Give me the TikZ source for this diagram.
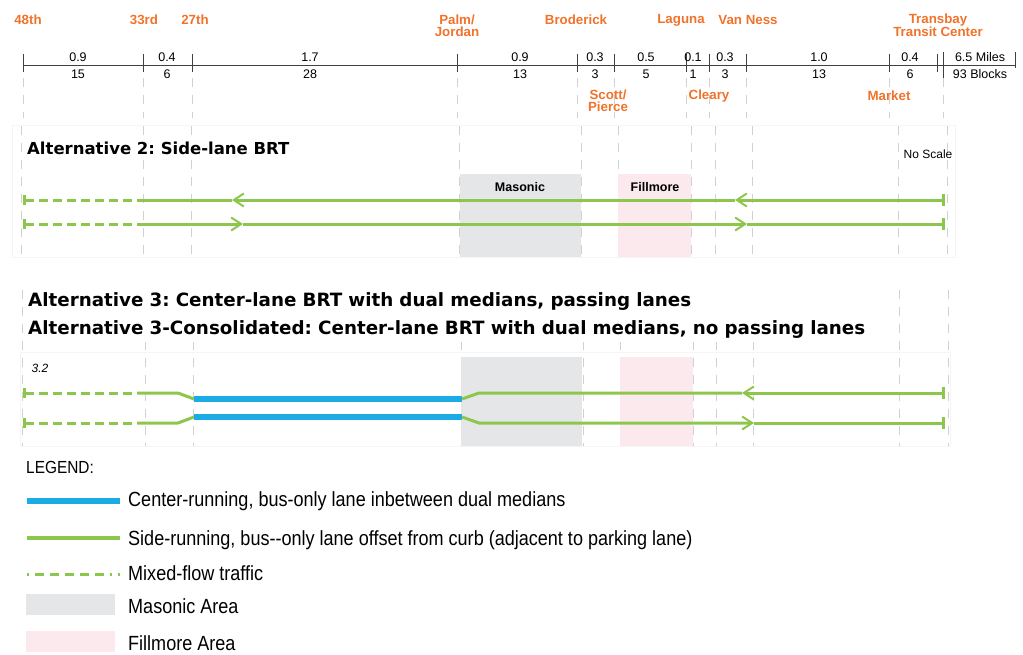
\documentclass[tikz,border=0pt]{standalone}
\usepackage{fontspec}
\setmainfont{Liberation Sans}
\newfontfamily\dejavu{DejaVu Sans}
\newfontfamily\sempit[FakeStretch=0.88]{Liberation Sans}
\usepackage{xcolor}
\usetikzlibrary{arrows.meta, positioning}
\definecolor{oranye}{RGB}{241,114,42}
\definecolor{hijau}{RGB}{141,198,76}
\definecolor{biru}{RGB}{28,171,226}
\definecolor{abu}{RGB}{229,230,232}
\definecolor{merahmuda}{RGB}{252,233,238}
\frenchspacing

\begin{document}
\begin{tikzpicture}[
    x=1pt, y=-1pt,
    font=\fontsize{12.5}{14}\selectfont,
    halte/.style={text=oranye, font=\fontsize{13.3}{12}\selectfont\bfseries, align=center, inner sep=0pt},
    angka/.style={inner sep=0pt},
    garis/.style={black!18, dash pattern=on 9pt off 8pt, line width=0.7pt},
    sisi/.style={hijau, line width=3pt},
    campur/.style={sisi, dash pattern=on 9pt off 5pt},
    tengah/.style={biru, line width=6pt},
    panah/.style={-{Straight Barb[length=10pt, width=13pt, line width=2pt]}},
    ujung/.style={{Bar[width=10pt]}-},
    judul/.style={font=\dejavu\bfseries\fontsize{16.5}{28}\selectfont, fill=white, anchor=west, inner sep=2pt, align=left},
    area/.style={font=\fontsize{12.5}{14}\selectfont\bfseries, inner sep=0pt},
    legenda/.style={font=\sempit\fontsize{20.5}{22}\selectfont, anchor=west, inner sep=0pt}
  ]
    \useasboundingbox (0,0) rectangle (1023,654);

    % skala jarak
    \coordinate (s0) at (23,65);
    \coordinate (s1) at (1015,65);
    \draw[black!75, line width=0.8pt] (s0) -- (s1);
    \foreach \x in {23,143,192,457,577,614,686,709,746,889,937}
      \draw[black!75, line width=0.8pt] (\x,54) -- (\x,72);
    \draw[black!75, line width=0.8pt] (943,52) -- (943,78);
    \draw[black!75, line width=0.8pt] (1015,52) -- (1015,68);
    \foreach \x in {23,143,192,457,577,614,686,709,746,889,943}
      \draw[garis] (\x,78) -- (\x,118);
    \foreach \x/\atas/\bawah in {78/0.9/15, 167/0.4/6, 310/1.7/28, 520/0.9/13, 595/0.3/3,
                                 646/0.5/5, 693/0.1/1, 725/0.3/3, 819/1.0/13, 910/0.4/6}{
      \node[angka] at (\x,57) {\atas};
      \node[angka] at (\x,74) {\bawah};
    }
    \node[angka] (mil) at (980,57) {6.5 Miles};
    \node[angka] (blok) at (980,74) {93 Blocks};

    % nama halte
    \node[halte] (h48) at (28,20) {48th};
    \node[halte] (h33) at (144,20) {33rd};
    \node[halte] (h27) at (195,20) {27th};
    \node[halte] (hpalm) at (457,25.5) {Palm/\\Jordan};
    \node[halte] (hbrod) at (576,20) {Broderick};
    \node[halte] (hlag) at (681,20) {Laguna};
    \node[halte] (hvn) at (748,20) {Van Ness};
    \node[halte] (htrans) at (938,25.5) {Transbay\\Transit Center};
    \node[halte] (hscott) at (608,101) {Scott/\\Pierce};
    \node[halte] (hclear) at (709,96) {Cleary};
    \node[halte] (hmark) at (889,96) {Market};

    % alternatif 2
    \draw[black!4] (12,125) rectangle (955,257);
    \foreach \x in {21,143,191,459,581,618,691,715,752,898,947}
      \draw[garis] (\x,126) -- (\x,256);
    \fill[abu] (460,174) rectangle (581,257);
    \fill[merahmuda] (618,174) rectangle (691,257);
    \node[area] (mas2) at (520,187) {Masonic};
    \node[area] (fil2) at (655,187) {Fillmore};
    \node[judul] (alt2) at (25,148) {Alternative 2: Side-lane BRT};
    \node[font=\fontsize{12}{14}\selectfont, inner sep=0pt] (skala) at (928,154) {No Scale};

    \coordinate (a2s) at (23,200);  \coordinate (a2m) at (137,200);
    \coordinate (a2p) at (232,200); \coordinate (a2q) at (735,200);
    \coordinate (a2e) at (945,200);
    \draw[campur, ujung] (a2s) -- (a2m);
    \draw[sisi, {Bar[width=12pt]}-{Straight Barb[length=10pt, width=13pt, line width=2pt]}] (a2e) -- (a2q);
    \draw[sisi, panah] (a2q) -- (a2p);
    \draw[sisi] (a2p) -- (a2m);

    \coordinate (b2s) at (23,224);  \coordinate (b2m) at (137,224);
    \coordinate (b2p) at (243,224); \coordinate (b2q) at (747,224);
    \coordinate (b2e) at (945,224);
    \draw[campur, ujung] (b2s) -- (b2m);
    \draw[sisi, panah] (b2m) -- (b2p);
    \draw[sisi, panah] (b2p) -- (b2q);
    \draw[sisi, -{Bar[width=12pt]}] (b2q) -- (b2e);

    % alternatif 3
    \draw[black!4] (20,352) rectangle (950,446);
    \foreach \x in {22,145,193,461,583,620,693,716,753,899,948}
      \draw[garis] (\x,290) -- (\x,446);
    \fill[abu] (461,357) rectangle (582,446);
    \fill[merahmuda] (620,357) rectangle (693,446);
    \node[judul, font=\dejavu\bfseries\fontsize{18.3}{28}\selectfont, text width=850pt, inner sep=3pt]
      (alt3) at (25,316) {Alternative 3: Center-lane BRT with dual medians, passing lanes\\
                          Alternative 3-Consolidated: Center-lane BRT with dual medians, no passing lanes};
    \node[font=\itshape\fontsize{12}{14}\selectfont, inner sep=0pt] (km) at (40,368) {3.2};

    \coordinate (a3s) at (23,393);  \coordinate (a3m) at (137,393);
    \coordinate (a3b) at (178,393); \coordinate (a3c) at (194,399);
    \coordinate (a3d) at (462,399); \coordinate (a3f) at (479,393);
    \coordinate (a3q) at (742,393); \coordinate (a3e) at (945,393);
    \draw[campur, ujung] (a3s) -- (a3m);
    \draw[sisi, line join=round] (a3m) -- (a3b) -- (a3c);
    \draw[tengah] (a3c) -- (a3d);
    \draw[sisi, line join=round] (a3d) -- (a3f) -- (a3q);
    \draw[sisi, {Bar[width=12pt]}-{Straight Barb[length=10pt, width=13pt, line width=2pt]}] (a3e) -- (a3q);

    \coordinate (b3s) at (23,423);  \coordinate (b3m) at (137,423);
    \coordinate (b3b) at (178,423); \coordinate (b3c) at (194,417);
    \coordinate (b3d) at (462,417); \coordinate (b3f) at (479,423);
    \coordinate (b3q) at (754,423); \coordinate (b3e) at (945,423);
    \draw[campur, ujung] (b3s) -- (b3m);
    \draw[sisi, line join=round] (b3m) -- (b3b) -- (b3c);
    \draw[tengah] (b3c) -- (b3d);
    \draw[sisi, line join=round, panah] (b3d) -- (b3f) -- (b3q);
    \draw[sisi, -{Bar[width=12pt]}] (b3q) -- (b3e);

    % legenda
    \node[legenda, font=\sempit\fontsize{17.5}{20}\selectfont] (leg) at (26,467) {LEGEND:};
    \coordinate (l1a) at (27,501); \coordinate (l1b) at (120,501);
    \draw[tengah] (l1a) -- (l1b);
    \node[legenda] (t1) at (128,501) {Center-running, bus-only lane inbetween dual medians};
    \coordinate (l2a) at (27,538); \coordinate (l2b) at (120,538);
    \draw[sisi, line width=4pt] (l2a) -- (l2b);
    \node[legenda] (t2) at (128,540) {Side-running, bus-{}-only lane offset from curb (adjacent to parking lane)};
    \coordinate (l3a) at (27,574); \coordinate (l3b) at (120,574);
    \draw[campur, dash pattern=on 2pt off 6pt on 9pt off 6pt on 9pt off 6pt on 9pt off 6pt on 9pt off 6pt on 9pt off 6pt] (l3a) -- (l3b);
    \node[legenda] (t3) at (128,573) {Mixed-flow traffic};
    \fill[abu] (26,594) rectangle (115,615);
    \node[legenda] (t4) at (128,606) {Masonic Area};
    \fill[merahmuda] (26,631) rectangle (115,652);
    \node[legenda] (t5) at (128,643) {Fillmore Area};
  \end{tikzpicture}
\end{document}
